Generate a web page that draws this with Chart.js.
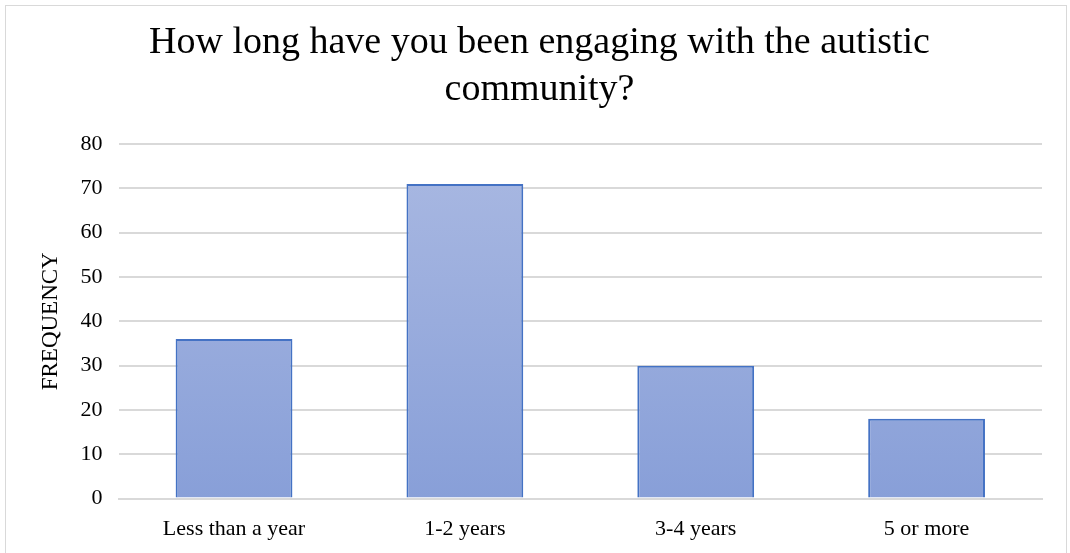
<!DOCTYPE html>
<html>
<head>
<meta charset="utf-8">
<script src="https://cdn.jsdelivr.net/npm/chart.js@4"></script>
<style>
  html, body { margin: 0; padding: 0; background: #fff; }
  #wrap {
    position: absolute; left: 5px; top: 5px;
    width: 1062px; height: 560px;
    border: 1px solid #d9d9d9; box-sizing: border-box;
  }
  canvas { position: absolute; left: 0; top: 0; }
</style>
</head>
<body>
<div id="wrap"><canvas id="myChart" width="1060" height="548"></canvas></div>
<script>
const categories = ["Less than a year", "1-2 years", "3-4 years", "5 or more"];
const frequency = [36, 71, 30, 18];
const titleLines = ["How long have you been engaging with the autistic", "community?"];

const ctx = document.getElementById('myChart').getContext('2d');

// vertical gradient like the office-style bar fill
function barFill(context) {
  const area = context.chart.chartArea;
  if (!area) return '#9aaedd';
  const g = ctx.createLinearGradient(0, area.top, 0, area.bottom);
  g.addColorStop(0, '#aab9e2');
  g.addColorStop(1, '#889fd8');
  return g;
}

const chart = new Chart(ctx, {
  type: 'bar',
  data: {
    labels: categories,
    datasets: [{
      label: 'Frequency',
      data: frequency,
      backgroundColor: barFill,
      borderColor: '#4472c4',
      borderWidth: 2,
      borderSkipped: 'bottom',
      categoryPercentage: 1,
      barPercentage: 0.506,
    }],
  },
  options: {
    responsive: false,
    animation: false,
    layout: { padding: { left: 31, right: 24, top: 4, bottom: 3 } },
    plugins: {
      legend: { display: false },
      tooltip: { enabled: false },
      title: {
        display: true,
        text: titleLines,
        color: '#000',
        font: { family: 'Liberation Serif', size: 38, weight: 'normal', lineHeight: 1.25 },
        padding: { top: 9, bottom: 30 },
      },
    },
    scales: {
      x: {
        grid: { display: false },
        border: { display: true, color: '#d9d9d9', width: 2 },
        ticks: { color: '#000', font: { family: 'Liberation Serif', size: 22 }, padding: 9 },
      },
      y: {
        min: 0,
        max: 80,
        ticks: { stepSize: 10, color: '#000', font: { family: 'Liberation Serif', size: 22 }, padding: 16 },
        grid: { color: '#d9d9d9', lineWidth: 2, drawTicks: false },
        border: { display: false },
        title: {
          display: true,
          text: 'FREQUENCY',
          color: '#000',
          font: { family: 'Liberation Serif', size: 23 },
          padding: { top: 0, bottom: 0 },
        },
      },
    },
  },
});
</script>
</body>
</html>
